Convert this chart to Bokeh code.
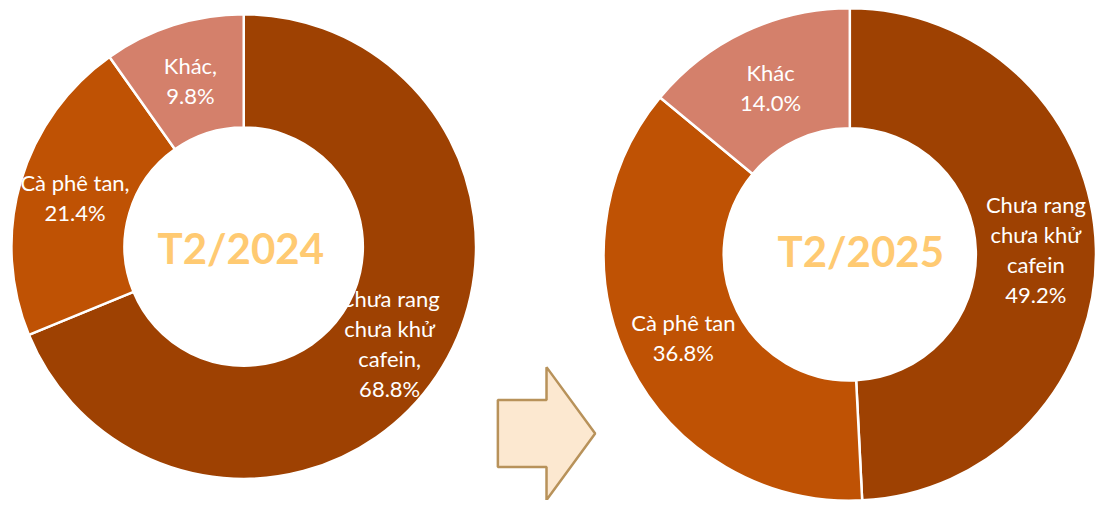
import math
from bokeh.plotting import figure
from bokeh.models import Range1d, ColumnDataSource
from bokeh.core.properties import value
from bokeh.embed import file_html
from bokeh.resources import INLINE

# ---- data ----
categories_2024 = ["Chưa rang\nchưa khử\ncafein,", "Cà phê tan,", "Khác,"]
values_2024 = [68.8, 21.4, 9.8]
categories_2025 = ["Chưa rang\nchưa khử\ncafein", "Cà phê tan", "Khác"]
values_2025 = [49.2, 36.8, 14.0]
titles = ["T2/2024", "T2/2025"]
colors = ["#9E4102", "#BF5204", "#D4806B"]

# ---- layout ----
W, H = 1096, 500
p = figure(width=W, height=H, x_range=Range1d(0, 1104), y_range=Range1d(0, 508),
           output_backend="svg", toolbar_location=None, min_border=0)
p.axis.visible = False
p.grid.visible = False
p.outline_line_color = None
p.background_fill_color = "white"
p.border_fill_color = "white"

donuts = [
    dict(cx=245, cy=258, r_out=234, r_in=120, cats=categories_2024, vals=values_2024, title=titles[0], tdx=-3, tdy=-1),
    dict(cx=855.5, cy=250, r_out=248, r_in=127, cats=categories_2025, vals=values_2025, title=titles[1], tdx=11, tdy=4),
]

for d in donuts:
    total = sum(d["vals"])
    starts, ends, lx, ly, labels = [], [], [], [], []
    cum = 0.0
    r_mid = (d["r_out"] + d["r_in"]) / 2
    for c, v in zip(d["cats"], d["vals"]):
        a0 = math.pi / 2 - cum / total * 2 * math.pi
        cum += v
        a1 = math.pi / 2 - cum / total * 2 * math.pi
        starts.append(a0)
        ends.append(a1)
        mid = (a0 + a1) / 2
        lx.append(d["cx"] + r_mid * math.cos(mid))
        ly.append(d["cy"] + r_mid * math.sin(mid))
        labels.append(f"{c}\n{v:.1f}%")
    src = ColumnDataSource(dict(start=starts, end=ends, color=colors[:len(starts)],
                                lx=lx, ly=ly, label=labels))
    p.annular_wedge(x=d["cx"], y=d["cy"], inner_radius=d["r_in"], outer_radius=d["r_out"],
                    start_angle="start", end_angle="end", direction="clock",
                    fill_color="color", line_color="white", line_width=2.5, source=src)
    p.text(x="lx", y="ly", text="label", source=src, text_align="center",
           text_baseline="middle", text_color="white", text_font=value("Lato"),
           text_font_size="22px", text_line_height=1.11)
    p.text(x=[d["cx"] + d["tdx"]], y=[d["cy"] + d["tdy"]], text=[d["title"]],
           text_align="center", text_baseline="middle", text_color="#FFCA72",
           text_font=value("Lato"), text_font_style="bold", text_font_size="42px")

# arrow shape
ax0, ay_mid = 501, 68
ah_body, ah_head, ax_head, ax_tip = 34, 67.5, 550, 599
p.patch(x=[ax0, ax_head, ax_head, ax_tip, ax_head, ax_head, ax0],
        y=[ay_mid + ah_body, ay_mid + ah_body, ay_mid + ah_head, ay_mid,
           ay_mid - ah_head, ay_mid - ah_body, ay_mid - ah_body],
        fill_color="#FCE8D0", line_color="#B8925A", line_width=2.5)

open("out.html", "w").write(file_html(p, INLINE))
